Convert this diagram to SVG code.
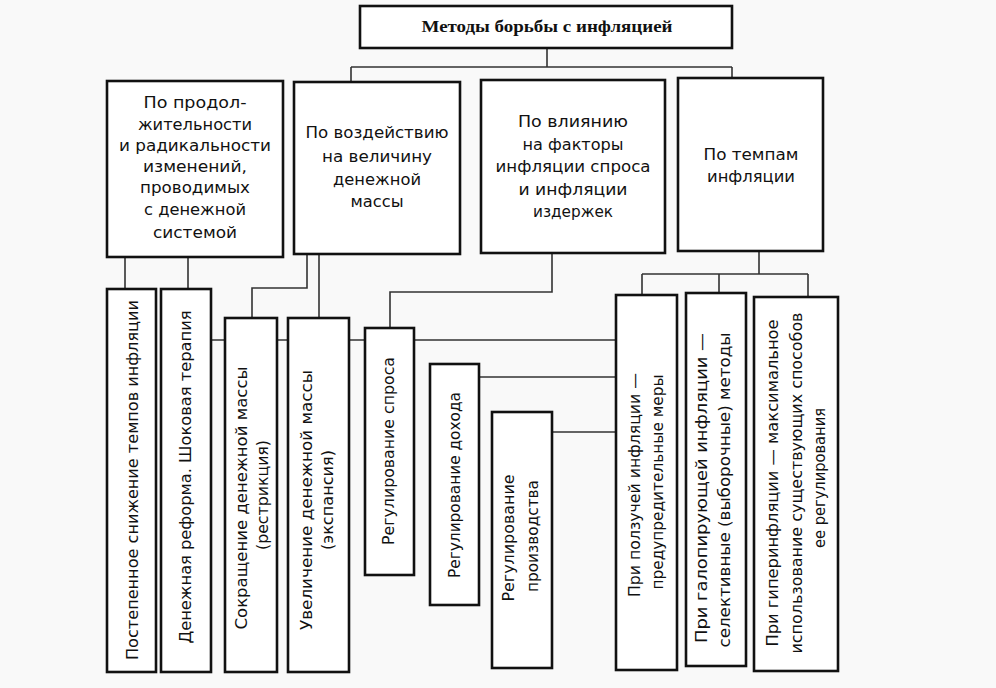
<svg xmlns="http://www.w3.org/2000/svg" width="996" height="688" viewBox="0 0 996 688">
<style>
.bg{fill:#f9f9f9}
.box{fill:#ffffff;stroke:#111;stroke-width:2.6}
.con{fill:none;stroke:#333;stroke-width:1.6}
.t{font-family:"DejaVu Sans","Liberation Sans",sans-serif;font-size:15px;fill:#111;text-anchor:middle}
.title{font-family:"Liberation Serif","DejaVu Serif",serif;font-size:16.5px;font-weight:bold;fill:#111;text-anchor:middle}
</style>
<rect class="bg" x="0" y="0" width="996" height="688"/>
<g id="connectors">
<path class="con" d="M547,48V67M351,67H732M351,67V82M732,67V78"/>
<path class="con" d="M125,257V289M188,257V289"/>
<path class="con" d="M307,254V288H252V318M319,254V318"/>
<path class="con" d="M552,253V292H390V328"/>
<path class="con" d="M759,251V274M642,274H808M642,274V295M719,274V293M808,274V297"/>
<path class="con" d="M211,340H616M479,377H616M552,432H616"/>
</g>
<g id="title">
<rect class="box" x="360" y="6" width="372" height="42"/>
<text class="title" x="547" y="32" textLength="251" lengthAdjust="spacingAndGlyphs">Методы борьбы с инфляцией</text>
</g>
<g id="cat1">
<rect class="box" x="107" y="81" width="176" height="176"/>
<text class="t" x="195" y="108" textLength="103" lengthAdjust="spacingAndGlyphs">По продол-</text>
<text class="t" x="195" y="130" textLength="114" lengthAdjust="spacingAndGlyphs">жительности</text>
<text class="t" x="195" y="151" textLength="152" lengthAdjust="spacingAndGlyphs">и радикальности</text>
<text class="t" x="195" y="172" textLength="104" lengthAdjust="spacingAndGlyphs">изменений,</text>
<text class="t" x="195" y="193" textLength="110" lengthAdjust="spacingAndGlyphs">проводимых</text>
<text class="t" x="195" y="215" textLength="102" lengthAdjust="spacingAndGlyphs">с денежной</text>
<text class="t" x="195" y="238" textLength="84" lengthAdjust="spacingAndGlyphs">системой</text>
</g>
<g id="cat2">
<rect class="box" x="294" y="82" width="166" height="172"/>
<text class="t" x="377" y="138" textLength="143" lengthAdjust="spacingAndGlyphs">По воздействию</text>
<text class="t" x="377" y="162" textLength="110" lengthAdjust="spacingAndGlyphs">на величину</text>
<text class="t" x="377" y="185" textLength="88" lengthAdjust="spacingAndGlyphs">денежной</text>
<text class="t" x="377" y="207" textLength="53" lengthAdjust="spacingAndGlyphs">массы</text>
</g>
<g id="cat3">
<rect class="box" x="481" y="80" width="184" height="173"/>
<text class="t" x="573" y="127" textLength="110" lengthAdjust="spacingAndGlyphs">По влиянию</text>
<text class="t" x="573" y="150" textLength="101" lengthAdjust="spacingAndGlyphs">на факторы</text>
<text class="t" x="573" y="172" textLength="155" lengthAdjust="spacingAndGlyphs">инфляции спроса</text>
<text class="t" x="573" y="195" textLength="109" lengthAdjust="spacingAndGlyphs">и инфляции</text>
<text class="t" x="573" y="217" textLength="80" lengthAdjust="spacingAndGlyphs">издержек</text>
</g>
<g id="cat4">
<rect class="box" x="678" y="78" width="145" height="173"/>
<text class="t" x="751" y="160" textLength="95" lengthAdjust="spacingAndGlyphs">По темпам</text>
<text class="t" x="751" y="182" textLength="88" lengthAdjust="spacingAndGlyphs">инфляции</text>
</g>
<g id="gradual">
<rect class="box" x="107" y="289" width="49" height="383"/>
<text class="t" transform="translate(138,480) rotate(-90)" textLength="360" lengthAdjust="spacingAndGlyphs">Постепенное снижение темпов инфляции</text>
</g>
<g id="reform">
<rect class="box" x="161" y="289" width="50" height="383"/>
<text class="t" transform="translate(191,477) rotate(-90)" textLength="333" lengthAdjust="spacingAndGlyphs">Денежная реформа. Шоковая терапия</text>
</g>
<g id="restriction">
<rect class="box" x="225" y="318" width="52" height="354"/>
<text class="t" transform="translate(247,498) rotate(-90)" textLength="263" lengthAdjust="spacingAndGlyphs">Сокращение денежной массы</text>
<text class="t" transform="translate(268,495) rotate(-90)" textLength="110" lengthAdjust="spacingAndGlyphs">(рестрикция)</text>
</g>
<g id="expansion">
<rect class="box" x="288" y="318" width="61" height="354"/>
<text class="t" transform="translate(312,500) rotate(-90)" textLength="260" lengthAdjust="spacingAndGlyphs">Увеличение денежной массы</text>
<text class="t" transform="translate(333,500) rotate(-90)" textLength="100" lengthAdjust="spacingAndGlyphs">(экспансия)</text>
</g>
<g id="demand">
<rect class="box" x="365" y="328" width="49" height="247"/>
<text class="t" transform="translate(394,451) rotate(-90)" textLength="188" lengthAdjust="spacingAndGlyphs">Регулирование спроса</text>
</g>
<g id="income">
<rect class="box" x="430" y="364" width="49" height="241"/>
<text class="t" transform="translate(460,485) rotate(-90)" textLength="186" lengthAdjust="spacingAndGlyphs">Регулирование дохода</text>
</g>
<g id="production">
<rect class="box" x="492" y="412" width="60" height="256"/>
<text class="t" transform="translate(514,538) rotate(-90)" textLength="127" lengthAdjust="spacingAndGlyphs">Регулирование</text>
<text class="t" transform="translate(538,536) rotate(-90)" textLength="112" lengthAdjust="spacingAndGlyphs">производства</text>
</g>
<g id="creeping">
<rect class="box" x="616" y="295" width="61" height="375"/>
<text class="t" transform="translate(640,485) rotate(-90)" textLength="224" lengthAdjust="spacingAndGlyphs">При ползучей инфляции —</text>
<text class="t" transform="translate(663,482) rotate(-90)" textLength="215" lengthAdjust="spacingAndGlyphs">предупредительные меры</text>
</g>
<g id="galloping">
<rect class="box" x="686" y="293" width="60" height="373"/>
<text class="t" transform="translate(707,488) rotate(-90)" textLength="310" lengthAdjust="spacingAndGlyphs">При галопирующей инфляции —</text>
<text class="t" transform="translate(730,490) rotate(-90)" textLength="315" lengthAdjust="spacingAndGlyphs">селективные (выборочные) методы</text>
</g>
<g id="hyper">
<rect class="box" x="754" y="297" width="84" height="374"/>
<text class="t" transform="translate(778,483) rotate(-90)" textLength="327" lengthAdjust="spacingAndGlyphs">При гиперинфляции — максимальное</text>
<text class="t" transform="translate(802,483) rotate(-90)" textLength="341" lengthAdjust="spacingAndGlyphs">использование существующих способов</text>
<text class="t" transform="translate(825,478) rotate(-90)" textLength="140" lengthAdjust="spacingAndGlyphs">ее регулирования</text>
</g>
</svg>
